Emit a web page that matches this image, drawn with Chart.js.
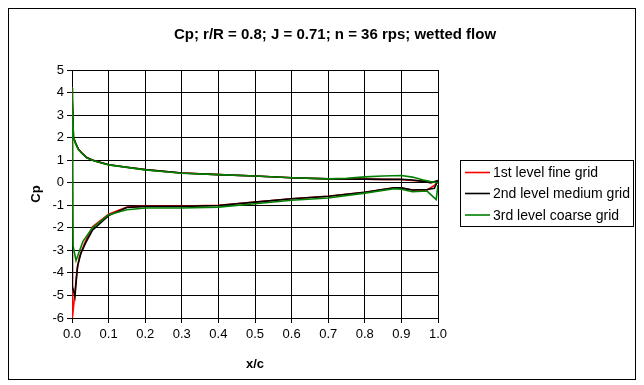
<!DOCTYPE html>
<html><head><meta charset="utf-8">
<script src="https://cdn.jsdelivr.net/npm/chart.js@4/dist/chart.umd.min.js"></script>
<style>
html,body{margin:0;padding:0;background:#fff;}
canvas{display:block;}
</style></head><body>
<canvas id="c" width="644" height="385"></canvas>
<script>
const chartTitle = 'Cp; r/R = 0.8; J = 0.71; n = 36 rps; wetted flow';
const xAxisTitle = 'x/c';
const yAxisTitle = 'Cp';
const seriesLabels = ['1st level fine grid', '2nd level medium grid', '3rd level coarse grid'];
const seriesColors = ['#ff0000', '#000000', '#008000'];
const xTickValues = [0, 0.1, 0.2, 0.3, 0.4, 0.5, 0.6, 0.7, 0.8, 0.9, 1.0];
const yTickValues = [-6, -5, -4, -3, -2, -1, 0, 1, 2, 3, 4, 5];

// 1st level fine grid: upper side (TE -> LE) then lower side (LE -> TE)
const xFine  = [1.0, 0.98, 0.96, 0.93, 0.9, 0.85, 0.8, 0.7, 0.6, 0.5, 0.4, 0.3, 0.2, 0.15, 0.1, 0.06, 0.04, 0.025, 0.017, 0.01, 0.004, 0.0,
                0.001, 0.006, 0.013, 0.02, 0.034, 0.056, 0.1, 0.15, 0.2, 0.3, 0.4, 0.5, 0.6, 0.7, 0.8, 0.88, 0.9, 0.93, 0.97, 0.99, 1.0];
const cpFine = [0.05, 0.0, 0.07, 0.1, 0.14, 0.15, 0.16, 0.17, 0.22, 0.3, 0.36, 0.43, 0.58, 0.69, 0.8, 0.98, 1.12, 1.35, 1.5, 1.75, 2.0, 4.2,
                -6.0, -5.2, -4.0, -3.3, -2.7, -1.95, -1.4, -1.08, -1.04, -1.04, -1.0, -0.86, -0.71, -0.6, -0.42, -0.22, -0.24, -0.32, -0.33, -0.12, 0.05];

// 2nd level medium grid
const xMedium  = [1.0, 0.98, 0.96, 0.93, 0.9, 0.85, 0.8, 0.7, 0.6, 0.5, 0.4, 0.3, 0.2, 0.15, 0.1, 0.06, 0.04, 0.025, 0.017, 0.01, 0.004, 0.0,
                  0.001, 0.008, 0.015, 0.025, 0.038, 0.056, 0.1, 0.15, 0.2, 0.3, 0.4, 0.5, 0.6, 0.7, 0.8, 0.88, 0.9, 0.93, 0.97, 0.99, 1.0];
const cpMedium = [0.1, 0.0, 0.06, 0.12, 0.15, 0.15, 0.16, 0.17, 0.22, 0.3, 0.36, 0.43, 0.58, 0.69, 0.8, 0.98, 1.12, 1.35, 1.5, 1.75, 2.0, 4.2,
                  -4.6, -5.05, -3.7, -3.1, -2.65, -2.1, -1.46, -1.1, -1.05, -1.05, -1.01, -0.86, -0.71, -0.6, -0.42, -0.22, -0.23, -0.32, -0.3, -0.25, 0.1];

// 3rd level coarse grid
const xCoarse  = [1.0, 0.98, 0.96, 0.93, 0.9, 0.85, 0.8, 0.75, 0.7, 0.6, 0.5, 0.4, 0.3, 0.2, 0.15, 0.1, 0.06, 0.04, 0.025, 0.017, 0.01, 0.004, 0.0,
                  0.003, 0.011, 0.03, 0.056, 0.1, 0.15, 0.2, 0.3, 0.4, 0.5, 0.6, 0.7, 0.8, 0.88, 0.9, 0.93, 0.97, 0.995, 1.0];
const cpCoarse = [0.0, 0.05, 0.12, 0.25, 0.32, 0.3, 0.26, 0.2, 0.17, 0.22, 0.3, 0.36, 0.42, 0.57, 0.68, 0.79, 0.97, 1.1, 1.33, 1.48, 1.72, 2.0, 4.25,
                  -2.8, -3.45, -2.6, -2.0, -1.42, -1.2, -1.12, -1.12, -1.08, -0.93, -0.78, -0.68, -0.46, -0.27, -0.29, -0.4, -0.37, -0.75, -0.1];

function pts(xs, ys) { return xs.map((x, i) => ({ x: x, y: ys[i] })); }

const FONT = 'Liberation Sans, Arial, sans-serif';

const framePlugin = {
  id: 'frame',
  beforeDraw(chart) {
    const ctx = chart.ctx;
    ctx.save();
    ctx.fillStyle = '#fff';
    ctx.fillRect(0, 0, chart.width, chart.height);
    ctx.strokeStyle = '#000';
    ctx.lineWidth = 1;
    ctx.strokeRect(8.5, 8.5, 627, 371);
    ctx.restore();
  },
  afterDraw(chart) {
    const ctx = chart.ctx;
    ctx.save();
    // title
    ctx.fillStyle = '#000';
    ctx.font = 'bold 15px ' + FONT;
    ctx.textAlign = 'center';
    ctx.textBaseline = 'middle';
    ctx.fillText(chartTitle, 335, 35);
    // legend
    const lx = 460.5, ly = 160.5, lw = 173, lh = 66;
    ctx.strokeStyle = '#000';
    ctx.lineWidth = 1;
    ctx.strokeRect(lx, ly, lw, lh);
    ctx.font = '14px ' + FONT;
    ctx.textAlign = 'left';
    const rows = [172.5, 193.5, 215];
    chart.data.datasets.forEach((ds, i) => {
      ctx.strokeStyle = ds.borderColor;
      ctx.lineWidth = 1.6;
      ctx.beginPath();
      ctx.moveTo(465, rows[i]);
      ctx.lineTo(490, rows[i]);
      ctx.stroke();
      ctx.fillStyle = '#000';
      ctx.fillText(ds.label, 493, rows[i] + 1);
    });
    ctx.restore();
  }
};

new Chart(document.getElementById('c'), {
  type: 'scatter',
  data: {
    datasets: [
      { label: seriesLabels[0], data: pts(xFine, cpFine), borderColor: seriesColors[0], backgroundColor: seriesColors[0], order: 3 },
      { label: seriesLabels[1], data: pts(xMedium, cpMedium), borderColor: seriesColors[1], backgroundColor: seriesColors[1], order: 2 },
      { label: seriesLabels[2], data: pts(xCoarse, cpCoarse), borderColor: seriesColors[2], backgroundColor: seriesColors[2], order: 1 }
    ].map(d => Object.assign(d, { showLine: true, pointRadius: 0, borderWidth: 1.6, tension: 0, fill: false }))
  },
  options: {
    responsive: false,
    animation: false,
    events: [],
    layout: { padding: { left: 20, right: 206, top: 70, bottom: 10 } },
    plugins: { legend: { display: false }, title: { display: false }, tooltip: { enabled: false } },
    scales: {
      x: {
        type: 'linear', min: 0, max: 1,
        afterFit(s) { s.height = 57; },
        afterBuildTicks(s) { s.ticks = xTickValues.map(v => ({ value: v })); },
        ticks: { color: '#000', font: { family: FONT, size: 13 }, padding: 4, maxRotation: 0, callback: v => v.toFixed(1) },
        grid: { color: '#000', lineWidth: 1, tickLength: 5, drawOnChartArea: true },
        border: { color: '#000', width: 1 },
        title: { display: true, text: xAxisTitle, color: '#000', font: { family: FONT, size: 13, weight: 'bold' }, padding: { top: 6, bottom: 3 } }
      },
      y: {
        type: 'linear', min: -6, max: 5,
        afterFit(s) { s.width = 52; },
        afterBuildTicks(s) { s.ticks = yTickValues.map(v => ({ value: v })); },
        ticks: { color: '#000', font: { family: FONT, size: 13 }, padding: 3, callback: v => String(v) },
        grid: { color: '#000', lineWidth: 1, tickLength: 5, drawOnChartArea: true },
        border: { color: '#000', width: 1 },
        title: { display: true, text: yAxisTitle, color: '#000', font: { family: FONT, size: 13, weight: 'bold' }, padding: { top: 9, bottom: 4 } }
      }
    }
  },
  plugins: [framePlugin]
});
</script>
</body></html>
